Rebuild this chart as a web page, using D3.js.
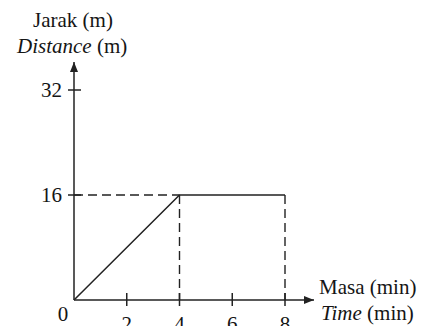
<!DOCTYPE html>
<html>
<head>
<meta charset="utf-8">
<script src="https://cdn.jsdelivr.net/npm/d3@7"></script>
<style>
  html, body { margin: 0; padding: 0; background: #fff; }
</style>
</head>
<body>
<svg id="chart" width="425" height="326" font-family="'Liberation Serif', 'Times New Roman', serif"></svg>
<script>
// Distance-time graph data
const timeMin = [0, 4, 8];
const distanceM = [0, 16, 16];
const xTicks = [2, 4, 6, 8];
const yTicks = [16, 32];
const xDomain = [0, 8];
const yDomain = [0, 32];

const svg = d3.select("#chart");
const x = d3.scaleLinear().domain(xDomain).range([74, 285]);
const y = d3.scaleLinear().domain(yDomain).range([300, 90]);
const ink = "#222";
const textInk = "#151515";
const fs = 21;

const defs = svg.append("defs");
defs.append("marker")
  .attr("id", "arrow")
  .attr("viewBox", "0 0 10 10")
  .attr("refX", 10).attr("refY", 5)
  .attr("markerWidth", 11).attr("markerHeight", 10)
  .attr("markerUnits", "userSpaceOnUse")
  .attr("orient", "auto")
  .append("path").attr("d", "M0,1 L10,5 L0,9 Z").attr("fill", ink);

// axes with arrowheads
svg.append("line")
  .attr("x1", x(0)).attr("y1", y(0)).attr("x2", 314).attr("y2", y(0))
  .attr("stroke", ink).attr("stroke-width", 1.5).attr("marker-end", "url(#arrow)");
svg.append("line")
  .attr("x1", x(0)).attr("y1", y(0)).attr("x2", x(0)).attr("y2", 62)
  .attr("stroke", ink).attr("stroke-width", 1.5).attr("marker-end", "url(#arrow)");

// crossing tick marks
svg.selectAll(".xt").data(xTicks).join("line")
  .attr("x1", d => x(d)).attr("x2", d => x(d))
  .attr("y1", y(0) - 7).attr("y2", y(0) + 6)
  .attr("stroke", ink).attr("stroke-width", 1.5);
svg.selectAll(".yt").data(yTicks).join("line")
  .attr("x1", x(0) - 6).attr("x2", x(0) + 7)
  .attr("y1", d => y(d)).attr("y2", d => y(d))
  .attr("stroke", ink).attr("stroke-width", 1.5);

// tick labels
svg.selectAll(".xl").data(xTicks).join("text")
  .attr("x", d => x(d)).attr("y", y(0) + 31)
  .attr("text-anchor", "middle").attr("font-size", fs).attr("fill", textInk)
  .text(d => d);
svg.selectAll(".yl").data(yTicks).join("text")
  .attr("x", x(0) - 12).attr("y", d => y(d) + 7)
  .attr("text-anchor", "end").attr("font-size", fs).attr("fill", textInk)
  .text(d => d);
svg.append("text").attr("x", x(0) - 11).attr("y", y(0) + 21)
  .attr("text-anchor", "middle").attr("font-size", fs).attr("fill", textInk).text("0");

// dashed guide lines
const guides = [
  [[0, distanceM[1]], [timeMin[1], distanceM[1]]],
  [[timeMin[1], distanceM[1]], [timeMin[1], 0]],
  [[timeMin[2], distanceM[2]], [timeMin[2], 0]]
];
svg.selectAll(".guide").data(guides).join("line")
  .attr("x1", d => x(d[0][0])).attr("y1", d => y(d[0][1]))
  .attr("x2", d => x(d[1][0])).attr("y2", d => y(d[1][1]))
  .attr("stroke", ink).attr("stroke-width", 1.4)
  .attr("stroke-dasharray", "9,5");

// the distance-time line
svg.append("path")
  .datum(timeMin.map((t, i) => [t, distanceM[i]]))
  .attr("fill", "none").attr("stroke", ink).attr("stroke-width", 1.5)
  .attr("d", d3.line().x(d => x(d[0])).y(d => y(d[1])));

// axis titles
const yTitle = svg.append("text").attr("font-size", fs).attr("fill", textInk);
yTitle.append("tspan").attr("x", 33).attr("y", 27).text("Jarak (m)");
const yt2 = yTitle.append("tspan").attr("x", 17).attr("y", 53);
yt2.append("tspan").attr("font-style", "italic").text("Distance");
yt2.append("tspan").text(" (m)");

const xTitle = svg.append("text").attr("font-size", fs).attr("fill", textInk);
xTitle.append("tspan").attr("x", 319).attr("y", 294).text("Masa (min)");
const xt2 = xTitle.append("tspan").attr("x", 321).attr("y", 320);
xt2.append("tspan").attr("font-style", "italic").text("Time");
xt2.append("tspan").text(" (min)");
</script>
</body>
</html>
